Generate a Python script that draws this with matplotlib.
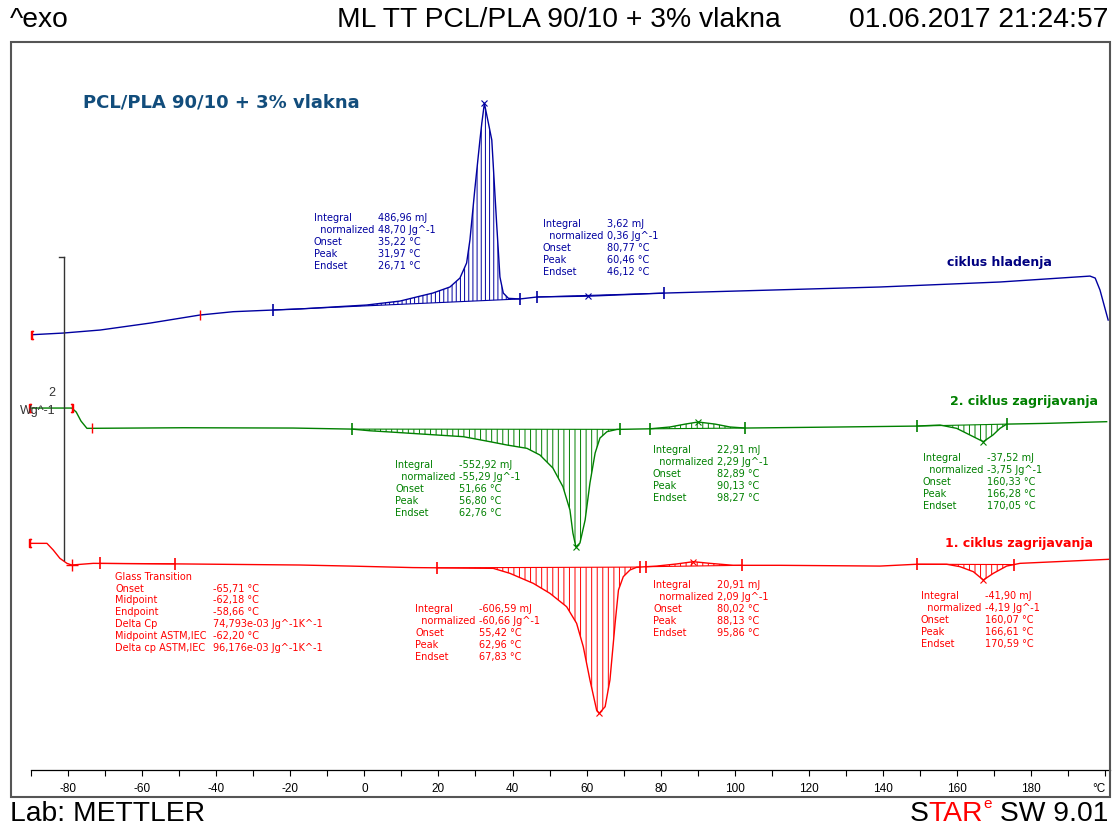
import numpy as np
import matplotlib.pyplot as plt

# ---- curves (temperature in °C, heat flow in W/g) ----
cool_t = [-89.8, -81.3, -71.3, -57.8, -44.4, -35.4, -24.6, -17.4, -8.5, 0.6, 9.6, 14.1,
          18.5, 23.1, 25.8, 27.6, 28.5, 29.8, 31.2, 31.7, 32.4, 33.5, 34.4, 35.7, 36.6,
          37.5, 38.9, 42.0, 46.6, 60.9, 81.2, 139.2, 171.6, 195.9, 197.3, 198.6, 199.7, 200.8]
cool_hf = [-0.163, -0.152, -0.132, -0.086, -0.033, -0.011, 0.000, 0.007, 0.020, 0.033, 0.059, 0.086,
           0.112, 0.152, 0.211, 0.310, 0.462, 0.792, 1.122, 1.232, 1.364, 1.232, 1.122, 0.574, 0.218,
           0.112, 0.077, 0.073, 0.086, 0.092, 0.112, 0.152, 0.185, 0.224, 0.211, 0.132, 0.033, -0.066]

heat2_t = [-90.3, -79.0, -77.8, -76.5, -74.9, -48.9, -19.2, -3.3, 1.5, 6.9, 15.8, 26.7,
           33.9, 38.5, 43.9, 47.4, 50.9, 53.6, 55.5, 56.3, 57.1, 58.2, 59.6, 60.9, 62.3,
           63.6, 65.5, 68.2, 77.1, 82.5, 86.6, 90.1, 94.7, 98.7, 102.8, 128.4, 149.1, 155.4,
           159.9, 163.5, 167.1, 169.7, 171.6, 173.4, 184.2, 200.4]
heat2_hf = [0.132, 0.132, 0.106, 0.046, -0.002, 0.002, 0.0, -0.007, -0.018, -0.026, -0.040, -0.057,
            -0.090, -0.112, -0.134, -0.178, -0.264, -0.387, -0.541, -0.693, -0.785, -0.759, -0.607, -0.363, -0.165,
            -0.066, -0.024, -0.009, -0.005, 0.007, 0.026, 0.040, 0.026, 0.007, 0.0, 0.007, 0.013, 0.020,
            -0.002, -0.046, -0.090, -0.046, -0.002, 0.026, 0.031, 0.042]

heat1_t = [-90.3, -85.7, -84.0, -82.2, -80.3, -79.0, -73.2, -48.9, -17.4, -3.9, 13.1, 34.8,
           39.3, 45.6, 50.1, 54.6, 57.3, 59.1, 60.9, 62.7, 63.4, 65.0, 66.3, 67.7, 68.6,
           69.9, 71.7, 73.5, 78.9, 84.3, 88.8, 93.3, 99.6, 112.2, 139.2, 149.1, 157.2, 160.8,
           164.4, 167.1, 169.8, 173.4, 177.0, 201.3]
heat1_hf = [0.143, 0.143, 0.099, 0.044, 0.011, 0.0, 0.011, 0.007, 0.0, -0.007, -0.017, -0.022,
            -0.055, -0.121, -0.187, -0.275, -0.385, -0.539, -0.759, -0.957, -0.979, -0.935, -0.759, -0.383, -0.165,
            -0.077, -0.033, -0.015, -0.007, 0.007, 0.022, 0.011, -0.002, -0.002, -0.007, 0.005, 0.005, -0.011,
            -0.044, -0.099, -0.055, -0.007, 0.011, 0.038]

# integration limits and peak temperatures
cool_limits = [(-24.6, 42.0), (46.6, 80.8)]
heat2_limits = [(-3.3, 69.0), (77.1, 102.8), (149.1, 173.4)]
heat1_limits = [(19.6, 74.4), (76.0, 102.0), (149.1, 175.4)]
tg_limits = (-71.4, -51.1)
cool_peaks = [32.4, 60.5]
heat2_peaks = [57.1, 90.1, 167.1]
heat1_peaks = [63.4, 88.8, 167.1]

# result tables
peak_labels = ['Integral', '  normalized', 'Onset', 'Peak', 'Endset']
cool_res = [['486,96 mJ', '48,70 Jg^-1', '35,22 °C', '31,97 °C', '26,71 °C'],
            ['3,62 mJ', '0,36 Jg^-1', '80,77 °C', '60,46 °C', '46,12 °C']]
heat2_res = [['-552,92 mJ', '-55,29 Jg^-1', '51,66 °C', '56,80 °C', '62,76 °C'],
             ['22,91 mJ', '2,29 Jg^-1', '82,89 °C', '90,13 °C', '98,27 °C'],
             ['-37,52 mJ', '-3,75 Jg^-1', '160,33 °C', '166,28 °C', '170,05 °C']]
heat1_res = [['-606,59 mJ', '-60,66 Jg^-1', '55,42 °C', '62,96 °C', '67,83 °C'],
             ['20,91 mJ', '2,09 Jg^-1', '80,02 °C', '88,13 °C', '95,86 °C'],
             ['-41,90 mJ', '-4,19 Jg^-1', '160,07 °C', '166,61 °C', '170,59 °C']]
tg_labels = ['Glass Transition', 'Onset', 'Midpoint', 'Endpoint', 'Delta Cp',
             'Midpoint ASTM,IEC', 'Delta cp ASTM,IEC']
tg_values = ['', '-65,71 °C', '-62,18 °C', '-58,66 °C', '74,793e-03 Jg^-1K^-1',
             '-62,20 °C', '96,176e-03 Jg^-1K^-1']

# where the tables sit (°C, W/g)
cool_pos = [(-13.6, 3.642), (48.1, 3.602)]
heat2_pos = [(8.3, 2.013), (77.9, 2.112), (150.8, 2.057)]
heat1_pos = [(13.7, 1.063), (78.0, 1.221), (150.2, 1.149)]
tg_pos = (-67.3, 1.276)

# stacking offsets of the curves
cool_off, heat2_off, heat1_off = 3.036, 2.257, 1.353

BLUE = '#0000a0'
GREEN = '#008000'
RED = '#ff0000'

plt.rcParams['hatch.linewidth'] = 0.7

fig = plt.figure(figsize=(11.18, 8.27), dpi=100)
ax = fig.add_axes([0.00984, 0.06892, 0.983, 0.88029])
ax.set_xlim(-95.4, 201.3)
ax.set_ylim(0, 4.805)
ax.patch.set_visible(False)
for s in ['top', 'left', 'right']:
    ax.spines[s].set_visible(False)
ax.spines['bottom'].set_bounds(-90, 201.3)
ax.spines['bottom'].set_linewidth(0.9)
ax.set_yticks([])
majors = list(range(-80, 201, 20))
ax.set_xticks(majors)
ax.set_xticklabels([str(v) for v in majors[:-1]] + ['°C'], family='Liberation Sans')
ax.get_xticklabels()[-1].set_ha('right')
ax.set_xticks(range(-90, 201, 10), minor=True)
ax.tick_params(axis='x', which='both', direction='out', length=4, width=0.8,
               labelsize=8.5, pad=5, colors='black')

# outer frame
fig.add_artist(plt.Rectangle((0.00984, 0.03628), 0.983, 0.91293, transform=fig.transFigure,
                             fill=False, lw=1.5, ec='#555555'))


def draw_curve(t, hf, off, color, limits, peaks, hatch):
    t = np.asarray(t)
    y = np.asarray(hf) + off
    ax.plot(t, y, color=color, lw=1)
    for lo, hi in limits:
        ylo, yhi = np.interp([lo, hi], t, y)
        inner = (t > lo) & (t < hi)
        ts = np.r_[lo, t[inner], hi]
        ys = np.r_[ylo, y[inner], yhi]
        base = np.interp(ts, [lo, hi], [ylo, yhi])
        ax.fill_between(ts, ys, base, facecolor='none', edgecolor=color, hatch=hatch, linewidth=0)
        ax.plot([lo, hi], [ylo, yhi], color=color, lw=0.8)
        ax.plot([lo, hi], [ylo, yhi], ls='none', marker='|', ms=9, mew=1.2, color=color)
    ax.plot(peaks, np.interp(peaks, t, y), ls='none', marker='x', ms=5, mew=0.8, color=color)
    ax.plot(t[0], y[0], ls='none', marker='$[$', ms=6, color=RED)
    return t, y


def table(pos, labels, values, color, dx=64):
    for i, (lab, val) in enumerate(zip(labels, values)):
        ax.annotate(lab, xy=pos, xytext=(0, -i * 11.9), textcoords='offset pixels',
                    va='center', ha='left', fontsize=7, color=color, family='DejaVu Sans')
        ax.annotate(val, xy=pos, xytext=(dx, -i * 11.9), textcoords='offset pixels',
                    va='center', ha='left', fontsize=7, color=color, family='DejaVu Sans')


ct, cy = draw_curve(cool_t, cool_hf, cool_off, BLUE, cool_limits, cool_peaks, '||||')
gt, gy = draw_curve(heat2_t, heat2_hf, heat2_off, GREEN, heat2_limits, heat2_peaks, '|||')
rt, ry = draw_curve(heat1_t, heat1_hf, heat1_off, RED, heat1_limits, heat1_peaks, '|||')

# glass transition marks on the first heating
ax.plot(tg_limits, np.interp(tg_limits, rt, ry), ls='none', marker='|', ms=8, mew=1.2, color=RED)
ax.plot(tg_limits, np.interp(tg_limits, rt, ry), color=RED, lw=0.8)
ax.plot([-79.0], np.interp([-79.0], rt, ry), ls='none', marker='+', ms=8, mew=1, color=RED)
ax.plot([-44.4], np.interp([-44.4], ct, cy), ls='none', marker='|', ms=7, mew=1, color=RED)
ax.plot([-73.5], np.interp([-73.5], gt, gy), ls='none', marker='|', ms=7, mew=1, color=RED)
ax.plot([-79.0], np.interp([-79.0], gt, gy), ls='none', marker='$]$', ms=6, color=RED)

for pos, res in zip(cool_pos, cool_res):
    table(pos, peak_labels, res, BLUE)
for pos, res in zip(heat2_pos, heat2_res):
    table(pos, peak_labels, res, GREEN)
for pos, res in zip(heat1_pos, heat1_res):
    table(pos, peak_labels, res, RED)
table(tg_pos, tg_labels, tg_values, RED, dx=98)

# curve names
ax.text(157.2, 3.349, 'ciklus hladenja', color='#000080', fontsize=9, fontweight='bold',
        va='center', ha='left', family='DejaVu Sans')
ax.text(198.1, 2.431, '2. ciklus zagrijavanja', color=GREEN, fontsize=9, fontweight='bold',
        va='center', ha='right', family='DejaVu Sans')
ax.text(196.7, 1.496, '1. ciklus zagrijavanja', color=RED, fontsize=9, fontweight='bold',
        va='center', ha='right', family='DejaVu Sans')
ax.text(-75.9, 4.403, 'PCL/PLA 90/10 + 3% vlakna', color='#124d7c', fontsize=13,
        fontweight='bold', va='center', ha='left', family='DejaVu Sans')

# 2 W/g scale bar
SCALE_WG = 2
bar_t, bar_top = -81.1, 3.386
ax.plot([bar_t, bar_t], [bar_top - SCALE_WG, bar_top], color='#333333', lw=1)
ax.plot([bar_t - 1.4, bar_t], [bar_top, bar_top], color='#333333', lw=1)
ax.text(bar_t - 2.4, 2.49, str(SCALE_WG), ha='right', va='center', fontsize=9,
        color='#333333', family='Liberation Sans')
ax.text(bar_t - 2.4, 2.37, 'Wg^-1', ha='right', va='center', fontsize=9,
        color='#333333', family='Liberation Sans')

# header / footer
hdr = dict(family='Liberation Sans', fontsize=20.3, va='center')
fig.text(0.009, 1 - 20 / 827, '^exo', ha='left', **hdr)
fig.text(0.5, 1 - 20 / 827, 'ML TT PCL/PLA 90/10 + 3% vlakna', ha='center', **hdr)
fig.text(0.991, 1 - 20 / 827, '01.06.2017 21:24:57', ha='right', **hdr)
fig.text(0.009, 1 - 814 / 827, 'Lab: METTLER', ha='left', **hdr)

renderer = fig.canvas.get_renderer()
W = fig.bbox.width
yf = 1 - 814 / 827
x_right = 0.991
for txt, col, size, dy in [(' SW 9.01', 'black', 20.3, 0), ('e', RED, 11, 0.012),
                           ('TAR', RED, 20.3, 0), ('S', 'black', 20.3, 0)]:
    t = fig.text(x_right, yf + dy, txt, ha='right', va='center', color=col,
                 family='Liberation Sans', fontsize=size)
    x_right = t.get_window_extent(renderer).x0 / W

fig.savefig('out.png', dpi=100)
